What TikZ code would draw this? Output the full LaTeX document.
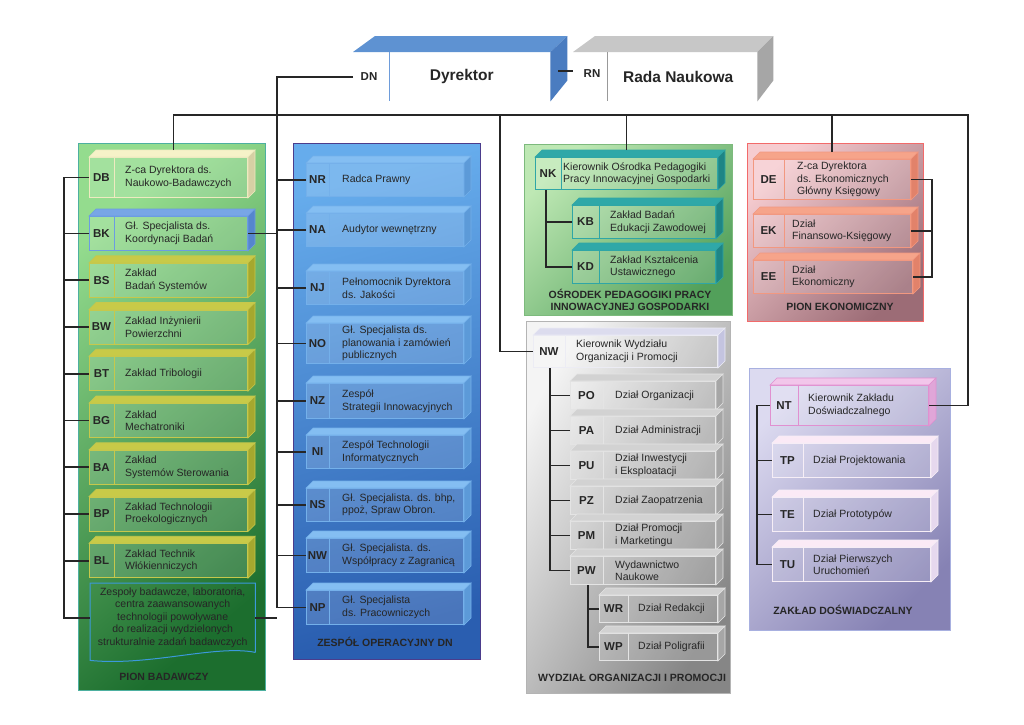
\documentclass[tikz,border=0pt]{standalone}
\usepackage{fontspec}
\setmainfont{Liberation Sans}

\definecolor{crT}{HTML}{F6F2C8}\definecolor{crS}{HTML}{D6D0A4}\definecolor{crE}{HTML}{EEEAC0}
\definecolor{ylT}{HTML}{C8CA48}\definecolor{ylS}{HTML}{A5A82E}\definecolor{ylE}{HTML}{C6C84C}
\definecolor{bkT}{HTML}{78A6E6}\definecolor{bkS}{HTML}{5586CE}\definecolor{bkE}{HTML}{6C9CE2}
\definecolor{blT}{HTML}{84BEF2}\definecolor{blS}{HTML}{5C9AD8}\definecolor{blE}{HTML}{74B0EA}
\definecolor{tlT}{HTML}{2FA8A8}\definecolor{tlS}{HTML}{1E8585}\definecolor{tlE}{HTML}{2FA6A6}
\definecolor{smT}{HTML}{F6A48A}\definecolor{smS}{HTML}{E2826A}\definecolor{smE}{HTML}{F29880}
\definecolor{lvT}{HTML}{DCDCEE}\definecolor{lvS}{HTML}{C4C4E0}\definecolor{lvE}{HTML}{ECECF4}
\definecolor{gyT}{HTML}{D2D2D2}\definecolor{gyS}{HTML}{A6A6A6}\definecolor{gyE}{HTML}{E4E4E4}
\definecolor{pkT}{HTML}{F2C6EA}\definecolor{pkS}{HTML}{E0A6D8}\definecolor{pkE}{HTML}{E090D0}
\definecolor{lpT}{HTML}{FBEAF6}\definecolor{lpS}{HTML}{E6D8EE}\definecolor{lpE}{HTML}{F6EEF6}
\definecolor{drT}{HTML}{5E92D2}\definecolor{drS}{HTML}{4A7CC0}\definecolor{drE}{HTML}{6E9CDA}
% panels
\definecolor{pbA}{HTML}{94DC8E}\definecolor{pbB}{HTML}{1C6E2E}\definecolor{pbE}{HTML}{4DB0A0}
\definecolor{zoA}{HTML}{66ACEC}\definecolor{zoB}{HTML}{2A5EB0}\definecolor{zoE}{HTML}{4B3C8C}
\definecolor{opA}{HTML}{BEE8B4}\definecolor{opB}{HTML}{52A05A}\definecolor{opE}{HTML}{7DBA7D}
\definecolor{peA}{HTML}{F6CCD0}\definecolor{peB}{HTML}{9C6C76}\definecolor{peE}{HTML}{F26A6A}
\definecolor{woA}{HTML}{F4F4F4}\definecolor{woB}{HTML}{868686}\definecolor{woE}{HTML}{B4B4B4}
\definecolor{zdA}{HTML}{DCDAF0}\definecolor{zdB}{HTML}{8682B4}\definecolor{zdE}{HTML}{A8B0E0}

\tikzset{
  ufront/.style={rectangle,anchor=north west,inner sep=0pt,fill=white,fill opacity=.15,line width=1pt},
  ucode/.style={font=\bfseries\fontsize{11.5}{13}\selectfont,text=black!85,inner sep=0pt},
  utext/.style={anchor=west,align=left,font=\fontsize{10.5}{12.5}\selectfont,text=black!85,inner sep=0pt},
  plabel/.style={align=center,font=\bfseries\fontsize{10.5}{12.5}\selectfont,text=black!85},
  title/.style={font=\bfseries\fontsize{15.5}{18}\selectfont,text=black!85},
  panel/.style={line width=1pt},
  link/.style={line width=1.6pt,black!85},
}

% #1 colour set, #2 name, #3 corner, #4 width, #5 height, #6 code, #7 text
\newcommand{\orgbox}[7]{%
  \node[ufront,draw=#1E,minimum width=#4pt,minimum height=#5pt] (#2) at #3 {};
  \filldraw[#1E,fill=#1T,line width=.6pt] (#2.north west) -- ++(\dep,\dep) -- ([shift={(\dep,\dep)}]#2.north east) -- (#2.north east) -- cycle;
  \filldraw[#1E,fill=#1S,line width=.6pt] (#2.north east) -- ++(\dep,\dep) -- ([shift={(\dep,\dep)}]#2.south east) -- (#2.south east) -- cycle;
  \draw[#1E,line width=1pt] ([xshift=\cw pt]#2.north west) -- ([xshift=\cw pt]#2.south west);
  \node[ucode] (#2c) at ([xshift=\cw pt/2]#2.west) {#6};
  \node[utext] (#2t) at ([xshift=\tx pt]#2.west) {#7};
}
\def\dep{7}

\begin{document}
\begin{tikzpicture}[x=1pt,y=1pt]
\useasboundingbox[fill=white] (0,0) rectangle (1024,-724);

\draw[panel,draw=pbE,top color=pbA,bottom color=pbB,shading angle=40] (78,-143) rectangle (265,-690);
\draw[panel,draw=zoE,top color=zoA,bottom color=zoB,shading angle=15] (293,-143) rectangle (480,-659);
\draw[panel,draw=opE,top color=opA,bottom color=opB,shading angle=45] (524,-144) rectangle (732,-315);
\draw[panel,draw=peE,top color=peA,bottom color=peB,shading angle=45] (747,-143) rectangle (923,-321);
\draw[panel,draw=woE,top color=woA,bottom color=woB,shading angle=60] (526,-321) rectangle (730,-693);
\draw[panel,draw=zdE,top color=zdA,bottom color=zdB,shading angle=45] (749,-368) rectangle (950,-630);

\node[plabel] (pb) at (164,-677) {PION BADAWCZY};
\node[plabel] (zo) at (385,-642) {ZESPÓŁ OPERACYJNY DN};
\node[plabel] (op) at (630,-300) {OŚRODEK PEDAGOGIKI PRACY\\INNOWACYJNEJ GOSPODARKI};
\node[plabel] (pe) at (840,-307) {PION EKONOMICZNY};
\node[plabel] (wo) at (632,-678) {WYDZIAŁ ORGANIZACJI I PROMOCJI};
\node[plabel] (zd) at (843,-610) {ZAKŁAD DOŚWIADCZALNY};

\node[anchor=north west,minimum width=197pt,minimum height=49pt,inner sep=0pt] (dyr) at (353,-52) {};
\fill[drT] (dyr.north west) -- ++(22,16) -- ([shift={(17,16)}]dyr.north east) -- (dyr.north east) -- cycle;
\fill[drS] (dyr.north east) -- ++(17,16) -- ([shift={(17,21)}]dyr.south east) -- (dyr.south east) -- cycle;
\draw[drE,line width=1pt] ([xshift=36pt]dyr.north west) -- ([xshift=36pt]dyr.south west);
\node[ucode] (DN) at ([xshift=16pt]dyr.west) {DN};
\node[title] (dyrt) at ([xshift=10pt]dyr.center) {Dyrektor};

\node[anchor=north west,minimum width=184pt,minimum height=49pt,inner sep=0pt] (rada) at (573,-52) {};
\fill[black!22] (rada.north west) -- ++(22,16) -- ([shift={(16,16)}]rada.north east) -- (rada.north east) -- cycle;
\fill[black!35] (rada.north east) -- ++(16,16) -- ([shift={(16,21)}]rada.south east) -- (rada.south east) -- cycle;
\draw[black!40,line width=1pt] ([xshift=34pt]rada.north west) -- ([xshift=34pt]rada.south west);
\node[ucode] (RN) at ([shift={(19,3)}]rada.west) {RN};
\node[title] (radat) at ([xshift=13pt]rada.center) {Rada Naukowa};

\def\cw{25}\def\tx{36}
\orgbox{cr}{DB}{(89,-157)}{158}{40}{DB}{Z-ca Dyrektora ds.\\Naukowo-Badawczych}
\orgbox{bk}{BK}{(89,-216)}{158}{34}{BK}{Gł. Specjalista ds.\\Koordynacji Badań}
\foreach \n/\t [count=\i] in {BS/{Zakład\\Badań Systemów},BW/{Zakład Inżynierii\\Powierzchni},BT/{Zakład Tribologii},BG/{Zakład\\Mechatroniki},BA/{Zakład\\Systemów Sterowania},BP/{Zakład Technologii\\Proekologicznych},BL/{Zakład Technik\\Włókienniczych}}
  \orgbox{yl}{\n}{(89,-216-46.75*\i)}{158}{34}{\n}{\t};
\node[anchor=north west,minimum width=165pt,minimum height=69pt,inner sep=0pt,align=center,font=\fontsize{10.5}{12.5}\selectfont,text=black!85] (ZB) at (90,-583)
  {Zespoły badawcze, laboratoria,\\centra zaawansowanych\\technologii powoływane\\do realizacji wydzielonych\\strukturalnie zadań badawczych};
\draw[cyan!70!blue!80,line width=1pt] (ZB.south east) -- (ZB.north east) -- (ZB.north west) -- ([yshift=-8pt]ZB.south west) .. controls +(60,-6) and +(-40,8) .. (ZB.south east);

\def\cw{23}\def\tx{36}
\foreach \n/\c/\y/\h/\t in {NR/NR/163/33/{Radca Prawny},NA/NA/213/33/{Audytor wewnętrzny},NJ/NJ/271/33/{Pełnomocnik Dyrektora\\ds. Jakości},NO/NO/323/40/{Gł. Specjalista ds.\\planowania i zamówień\\publicznych},NZ/NZ/383/35/{Zespół\\Strategii Innowacyjnych},NI/NI/435/33/{Zespół Technologii\\Informatycznych},NS/NS/488/33/{Gł. Specjalista. ds. bhp,\\ppoż, Spraw Obron.},NX/NW/538/34/{Gł. Specjalista. ds.\\Współpracy z Zagranicą},NP/NP/590/34/{Gł. Specjalista\\ds. Pracowniczych}}
  \orgbox{bl}{\n}{(306,-\y)}{157}{\h}{\c}{\t};

\def\cw{26}\def\tx{28}
\orgbox{tl}{NK}{(535,-157)}{182}{32}{NK}{Kierownik Ośrodka Pedagogiki\\Pracy Innowacyjnej Gospodarki}
\def\cw{27}\def\tx{38}
\orgbox{tl}{KB}{(572,-205)}{143}{33}{KB}{Zakład Badań\\Edukacji Zawodowej}
\orgbox{tl}{KD}{(572,-250)}{143}{33}{KD}{Zakład Kształcenia\\Ustawicznego}

\def\cw{31}\def\tx{44}
\orgbox{sm}{DE}{(753,-159)}{157}{40}{DE}{Z-ca Dyrektora\\ds. Ekonomicznych\\Główny Księgowy}
\def\tx{39}
\orgbox{sm}{EK}{(753,-214)}{157}{33}{EK}{Dział\\Finansowo-Księgowy}
\orgbox{sm}{EE}{(753,-260)}{159}{33}{EE}{Dział\\Ekonomiczny}

\def\cw{32}\def\tx{43}
\orgbox{lv}{NW}{(533,-335)}{184}{32}{NW}{Kierownik Wydziału\\Organizacji i Promocji}
\def\cw{33}\def\tx{45}
\foreach \n/\t [count=\i from 0] in {PO/{Dział Organizacji},PA/{Dział Administracji},PU/{Dział Inwestycji\\i Eksploatacji},PZ/{Dział Zaopatrzenia},PM/{Dział Promocji\\i Marketingu},PW/{Wydawnictwo\\Naukowe}}
  \orgbox{gy}{\n}{(570,-381-35*\i)}{145}{28}{\n}{\t};
\def\cw{29}\def\tx{39}
\orgbox{gy}{WR}{(599,-595)}{118}{27}{WR}{Dział Redakcji}
\orgbox{gy}{WP}{(599,-633)}{118}{27}{WP}{Dział Poligrafii}

\def\cw{28}\def\tx{38}
\orgbox{pk}{NT}{(770,-385)}{158}{40}{NT}{Kierownik Zakładu\\Doświadczalnego}
\def\cw{31}\def\tx{41}
\foreach \n/\y/\t in {TP/443/{Dział Projektowania},TE/497/{Dział Prototypów},TU/547/{Dział Pierwszych\\Uruchomień}}
  \orgbox{lp}{\n}{(772,-\y)}{158}{34}{\n}{\t};

\coordinate (bus) at (0,-115);
\coordinate (xl) at (64,0);
\coordinate (xd) at (277,0);
\coordinate (xm) at (500,0);
\coordinate (xr) at (968,0);
\coordinate (xe) at (932,0);
\coordinate (xk) at (546,0);
\coordinate (xp) at (550,0);
\coordinate (xw) at (588,0);
\coordinate (xt) at (757,0);

\draw[link] (dyr.west) -- (dyr.west -| xd) -- (NP.west -| xd);
\draw[link] ([shift={(8,6)}]dyr.east) -- ([yshift=6pt]rada.west);
\draw[link] ([shift={(5,7)}]DB.north) |- (xr |- bus) |- (NT.east);
\draw[link] ([yshift=7pt]NK.north) -- (NK.north |- bus);
\draw[link] ([yshift=7pt]DE.north) -- (DE.north |- bus);
\draw[link] (NW.west) -| (xm |- bus);

\draw[link] (DB.west) -| (xl |- ZB.west) -- (ZB.west);
\foreach \n in {BK,BS,BW,BT,BG,BA,BP,BL}
  \draw[link] (\n.west) -- (\n.west -| xl);
\draw[link] (BK.east) -- (BK.east -| xd);
\draw[link] (ZB.east) -- (ZB.east -| xd);
\foreach \n in {NR,NA,NJ,NO,NZ,NI,NS,NX,NP}
  \draw[link] (\n.west) -- (\n.west -| xd);

\draw[link] (NK.south -| xk) |- (KD.west);
\draw[link] (KB.west) -- (KB.west -| xk);
\draw[link] (DE.east) -| (xe |- EE.east) -- (EE.east);
\draw[link] (EK.east) -- (EK.east -| xe);

\draw[link] (NW.south -| xp) |- (PW.west);
\foreach \n in {PO,PA,PU,PZ,PM}
  \draw[link] (\n.west) -- (\n.west -| xp);
\draw[link] (PW.south -| xw) |- (WP.west);
\draw[link] (WR.west) -- (WR.west -| xw);

\draw[link] (NT.west) -| (xt |- TU.west) -- (TU.west);
\foreach \n in {TP,TE}
  \draw[link] (\n.west) -- (\n.west -| xt);
\end{tikzpicture}
\end{document}
